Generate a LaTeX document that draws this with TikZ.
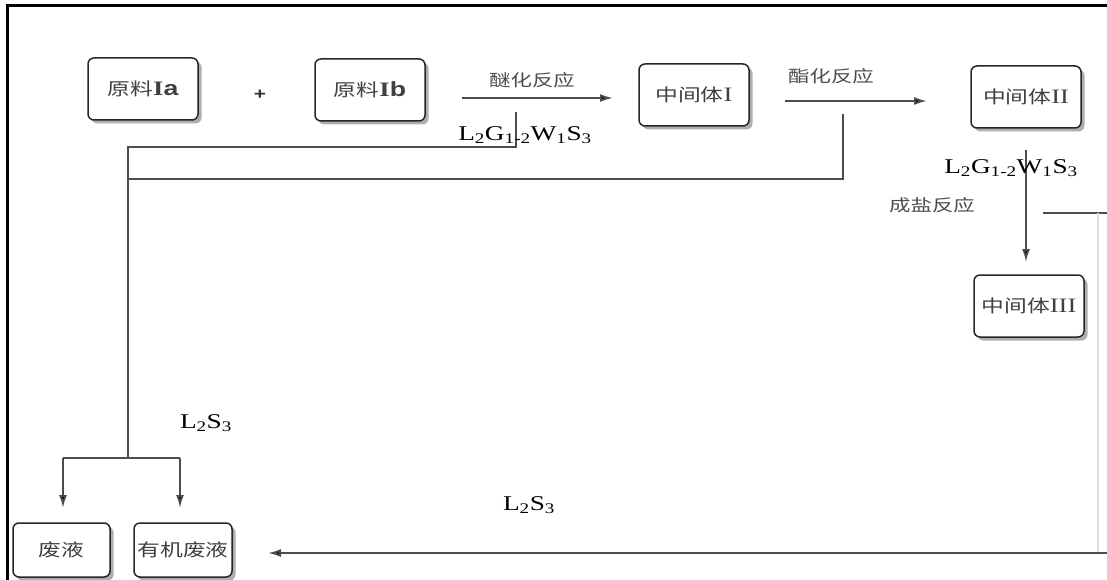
\documentclass[tikz,border=0pt]{standalone}
\usepackage{fontspec}
\setmainfont{Liberation Serif}[FakeStretch=1.3]
\newfontfamily\cjk{Noto Sans CJK SC}[FakeStretch=1.3]
\newfontfamily\sansf{Liberation Sans}[FakeStretch=1.3]
\usepackage{tikz}
\usetikzlibrary{shapes, arrows.meta, positioning, shadows}
\newcommand{\zh}[1]{{\cjk #1}}
\newcommand{\rn}[1]{{\fontsize{20.5}{22}\selectfont #1}}
\tikzstyle{box} = [rectangle, rounded corners=6pt, draw=black!85, line width=1.5pt, fill=white, minimum width=110pt, minimum height=62pt, text=black!75, font=\fontsize{17.5}{19}\selectfont, drop shadow={shadow xshift=3.5pt, shadow yshift=-3.5pt, fill=black!70, opacity=0.45}]
\tikzstyle{line} = [draw, black!70, line width=1.9pt]
\tikzstyle{arrow} = [line, -{Latex[length=13pt, width=8pt, fill=black]}]
\tikzstyle{lbl} = [text=black!70, font=\cjk\fontsize{16.5}{18}\selectfont]
\tikzstyle{chem} = [inner sep=0pt, font=\fontsize{21}{24}\selectfont]

\begin{document}
\begin{tikzpicture}[x=1pt, y=-1pt]
			\useasboundingbox (0,0) rectangle (1107,580);
			\draw [line width=3pt] (7,580) -- (7,6) -- (1107,6);

			\node [box] (ia) at (143, 89) {\zh{原料}\rn{\textbf{I}{\sansf\bfseries a}}};
			\node [font=\sansf\bfseries\fontsize{16}{17}\selectfont, text=black!80] (plus) at (260, 95) {+};
			\node [box] (ib) at (370, 90) {\zh{原料}\rn{\textbf{I}{\sansf\bfseries b}}};
			\node [box] (m1) at (694, 95) {\zh{中间体}\rn{I}};
			\node [box] (m2) at (1026, 97) {\zh{中间体}\rn{II}};
			\node [box] (m3) at (1029, 306) {\zh{中间体}\rn{III}};
			\node [box, minimum width=97pt, minimum height=54pt] (fy) at (61.5, 550) {\zh{废液}};
			\node [box, minimum width=98pt, minimum height=54pt] (yj) at (183, 550) {\zh{有机废液}};

			\node [lbl] (r1) at (532, 80) {醚化反应};
			\node [lbl] (r2) at (831, 76) {酯化反应};
			\node [lbl] (r3) at (932, 205) {成盐反应};

			% free ends of the connectors
			\coordinate (a1s) at (462, 98);
			\coordinate (a1e) at (613, 98);
			\coordinate (a2s) at (785, 101);
			\coordinate (a2e) at (927, 101);
			\coordinate (a3s) at (1026, 150);
			\coordinate (a3e) at (1026, 262);
			\coordinate (w1) at (516, 112);
			\coordinate (w1b) at (516, 147);
			\coordinate (k1) at (128, 147);
			\coordinate (w2) at (843, 114);
			\coordinate (w2b) at (843, 179);
			\coordinate (k2) at (128, 179);
			\coordinate (j) at (128, 458);
			\coordinate (jl) at (63, 458);
			\coordinate (jr) at (180, 458);
			\coordinate (t1) at (63, 508);
			\coordinate (t2) at (180, 508);
			\coordinate (s1) at (1043, 213);
			\coordinate (s2) at (1107, 213);
			\coordinate (v1) at (1098, 213);
			\coordinate (v2) at (1098, 553);
			\coordinate (b1) at (1107, 553);
			\coordinate (b2) at (268, 553);

			\path [arrow] (a1s) -- (a1e);
			\path [arrow] (a2s) -- (a2e);
			\path [arrow] (a3s) -- (a3e);
			\path [line] (w1) -- (w1b) -- (k1) -- (j);
			\path [line] (w2) -- (w2b) -- (k2);
			\path [line] (jl) -- (jr);
			\path [arrow] (jl) -- (t1);
			\path [arrow] (jr) -- (t2);
			\path [line] (s1) -- (s2);
			\path [line, black!12] (v1) -- (v2);
			\path [arrow] (b1) -- (b2);

			\node [chem] (c1) at (525, 135) {L\textsubscript{2}G\textsubscript{1-2}W\textsubscript{1}S\textsubscript{3}};
			\node [chem] (c2) at (1011, 168) {L\textsubscript{2}G\textsubscript{1-2}W\textsubscript{1}S\textsubscript{3}};
			\node [chem] (c3) at (206, 423) {L\textsubscript{2}S\textsubscript{3}};
			\node [chem] (c4) at (529, 505) {L\textsubscript{2}S\textsubscript{3}};
		\end{tikzpicture}
\end{document}
